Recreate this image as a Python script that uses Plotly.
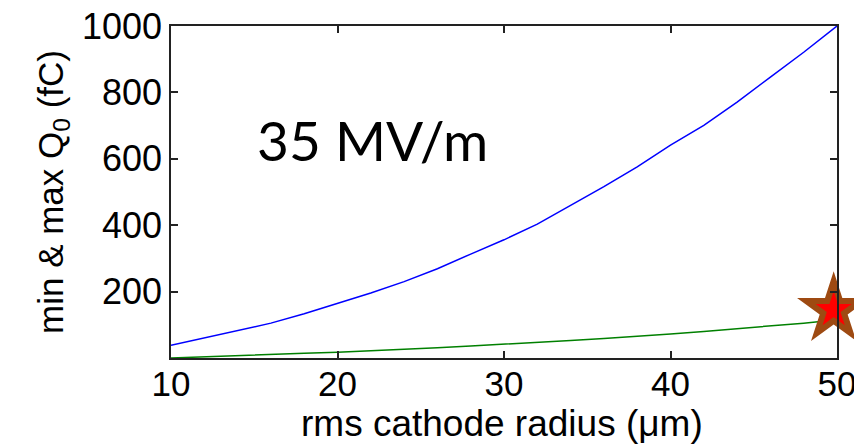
import plotly.graph_objects as go

radius_um = [10, 12, 14, 16, 18, 20, 22, 24, 26, 28, 30, 32, 34, 36, 38, 40, 42, 44, 46, 48, 50]
q_max_fc = [38, 60, 82, 105, 133, 164, 196, 230, 269, 313, 356, 403, 459, 516, 576, 641, 701, 771, 846, 921, 1000]
q_min_fc = [0, 4, 7, 10, 14, 17, 21, 26, 31, 36, 41, 47, 53, 59, 65, 72, 80, 88, 96, 105, 115]
star_x = [49.8]
star_y = [145]
x_ticks = [10, 20, 30, 40, 50]
y_ticks = [200, 400, 600, 800, 1000]

fig = go.Figure()
fig.add_trace(go.Scatter(x=radius_um, y=q_max_fc, mode="lines",
                         line=dict(color="#0000FF", width=1.5), showlegend=False))
fig.add_trace(go.Scatter(x=radius_um, y=q_min_fc, mode="lines",
                         line=dict(color="#008000", width=1.5), showlegend=False))
fig.add_trace(go.Scatter(x=star_x, y=star_y, mode="markers", cliponaxis=False,
                         marker=dict(symbol="star", size=55, color="#9E4A12",
                                     line=dict(width=0)), showlegend=False))
fig.add_trace(go.Scatter(x=star_x, y=star_y, mode="markers", cliponaxis=False,
                         marker=dict(symbol="star", size=27, color="#FF0000",
                                     line=dict(width=0)), showlegend=False))

plot_w = 854 - 171 - 17
plot_h = 445 - 26 - 87

axis_font = dict(family="Liberation Sans, Arial, sans-serif", size=36, color="black")
x_tick_font = dict(family="Liberation Sans, Arial, sans-serif", size=35, color="black")
fig.update_layout(
    width=854, height=445,
    margin=dict(l=171, r=17, t=26, b=87),
    paper_bgcolor="white", plot_bgcolor="white",
    xaxis=dict(range=[10, 50], tickvals=x_ticks, ticks="inside", ticklen=7,
               tickcolor="#222", tickwidth=1.5, showline=True, linecolor="#222",
               linewidth=1.5, mirror="ticks", showgrid=False, zeroline=False,
               tickfont=x_tick_font, automargin=False, ticklabeloverflow="allow",
               ticklabelstandoff=-6),
    yaxis=dict(range=[0, 1000], tickvals=y_ticks, ticks="inside", ticklen=7,
               tickcolor="#222", tickwidth=1.5, showline=True, linecolor="#222",
               linewidth=1.5, mirror="ticks", showgrid=False, zeroline=False,
               tickfont=axis_font, automargin=False, ticklabeloverflow="allow",
               title=dict(text="min & max Q<sub>0</sub> (fC)",
                          font=dict(family="Liberation Sans, Arial, sans-serif", size=35, color="black"),
                          standoff=8)),
    annotations=[
        dict(x=(372 - 171) / plot_w, y=(445 - 87 - 140) / plot_h,
             xref="paper", yref="paper", text="35 MV/m",
             showarrow=False, xanchor="center", yanchor="middle",
             font=dict(family="Lato, Open Sans, sans-serif", size=55, color="black")),
        dict(x=(502 - 171) / plot_w, y=-87 / plot_h, xref="paper", yref="paper",
             text="rms cathode radius (μm)", showarrow=False,
             xanchor="center", yanchor="bottom", borderpad=0,
             font=dict(family="Liberation Sans, Arial, sans-serif", size=37, color="black")),
    ],
)

fig.write_html("out.html")
